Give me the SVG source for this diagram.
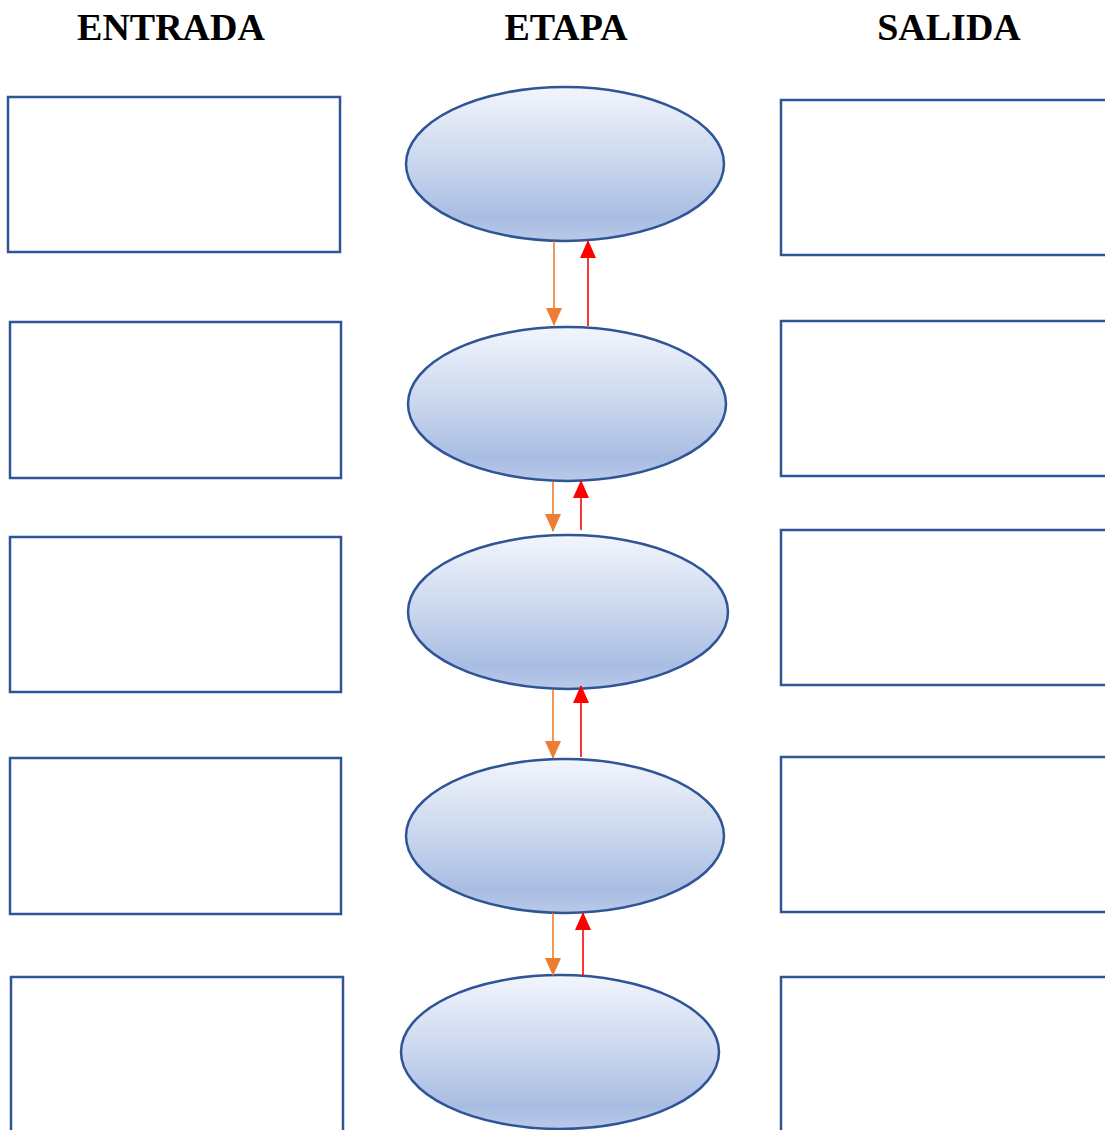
<svg xmlns="http://www.w3.org/2000/svg" width="1105" height="1130" viewBox="0 0 1105 1130">
<style>
.hdr{font-family:"Liberation Serif","Times New Roman",serif;font-weight:bold;font-size:38px;fill:#000;text-anchor:middle}
.box{fill:#fff;stroke:#2f5597;stroke-width:2.5}
.ell{fill:url(#g);stroke:#2f5597;stroke-width:2.5}
.down{stroke:#ed7d31;stroke-width:1.6;fill:none;marker-end:url(#ho)}
.up{stroke:#ff0000;stroke-width:1.6;fill:none;marker-end:url(#hr)}
</style>
<defs>
<linearGradient id="g" x1="0" y1="0" x2="0" y2="1">
<stop offset="0" stop-color="#f2f5fc"/>
<stop offset="0.5" stop-color="#c9d6ee"/>
<stop offset="0.85" stop-color="#a9bde3"/>
<stop offset="1" stop-color="#b9c9e8"/>
</linearGradient>
<marker id="ho" viewBox="0 0 18 16" refX="17" refY="8" markerWidth="18" markerHeight="16" markerUnits="userSpaceOnUse" orient="auto">
<path d="M0,0 L18,8 L0,16 Z" fill="#ed7d31"/>
</marker>
<marker id="hr" viewBox="0 0 18 16" refX="17" refY="8" markerWidth="18" markerHeight="16" markerUnits="userSpaceOnUse" orient="auto">
<path d="M0,0 L18,8 L0,16 Z" fill="#ff0000"/>
</marker>
</defs>
<g id="headers">
<text class="hdr" x="171" y="40">ENTRADA</text>
<text class="hdr" x="566" y="40">ETAPA</text>
<text class="hdr" x="949" y="40">SALIDA</text>
</g>
<g id="entrada">
<rect id="in1" class="box" x="8" y="97" width="332" height="155"/>
<rect id="in2" class="box" x="10" y="322" width="331" height="156"/>
<rect id="in3" class="box" x="10" y="537" width="331" height="155"/>
<rect id="in4" class="box" x="10" y="758" width="331" height="156"/>
<rect id="in5" class="box" x="11" y="977" width="332" height="160"/>
</g>
<g id="salida">
<rect id="out1" class="box" x="781" y="100" width="340" height="155"/>
<rect id="out2" class="box" x="781" y="321" width="340" height="155"/>
<rect id="out3" class="box" x="781" y="530" width="340" height="155"/>
<rect id="out4" class="box" x="781" y="757" width="340" height="155"/>
<rect id="out5" class="box" x="781" y="977" width="340" height="160"/>
</g>
<g id="etapas">
<ellipse id="e1" class="ell" cx="565" cy="164" rx="159" ry="77"/>
<ellipse id="e2" class="ell" cx="567" cy="404" rx="159" ry="77"/>
<ellipse id="e3" class="ell" cx="568" cy="612" rx="160" ry="77"/>
<ellipse id="e4" class="ell" cx="565" cy="836" rx="159" ry="77"/>
<ellipse id="e5" class="ell" cx="560" cy="1052" rx="159" ry="77"/>
</g>
<g id="connectors">
<line class="down" x1="554" y1="241" x2="554" y2="325"/>
<line class="up" x1="588" y1="326" x2="588" y2="241"/>
<line class="down" x1="553" y1="482" x2="553" y2="531"/>
<line class="up" x1="581" y1="530" x2="581" y2="481"/>
<line class="down" x1="553" y1="690" x2="553" y2="758"/>
<line class="up" x1="581" y1="757" x2="581" y2="686"/>
<line class="down" x1="553" y1="913" x2="553" y2="975"/>
<line class="up" x1="583" y1="976" x2="583" y2="913"/>
</g>
</svg>
